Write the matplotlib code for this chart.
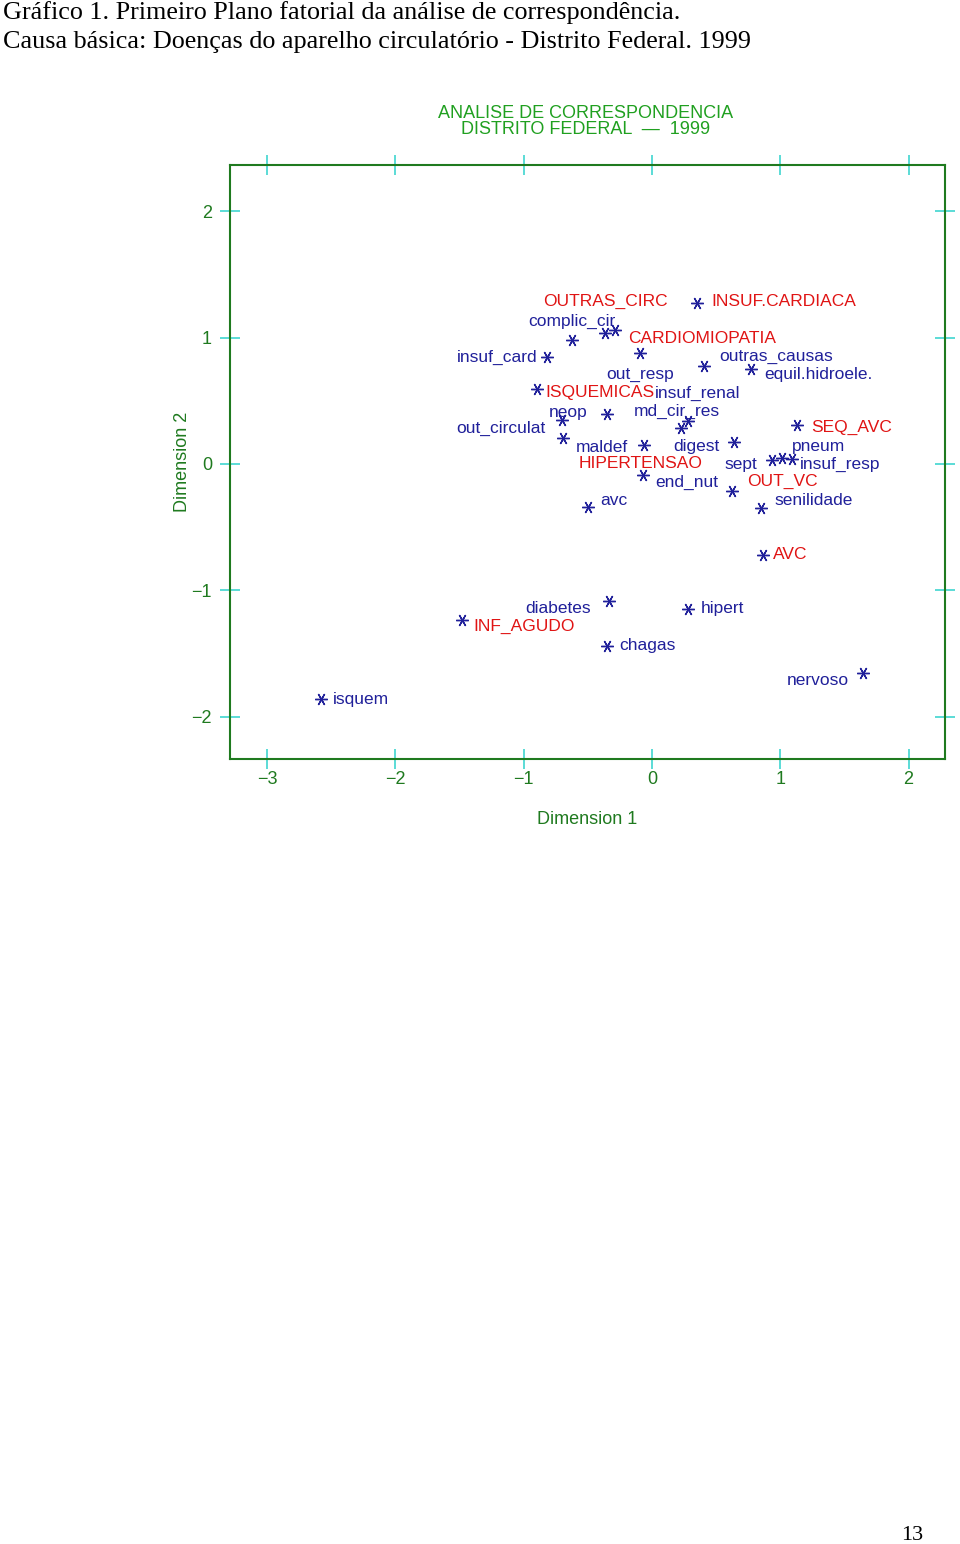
import numpy as np
import matplotlib
matplotlib.use("Agg")
import matplotlib.pyplot as plt

# Coordinates of the categories on the first factorial plane
labels = ["INSUF.CARDIACA", "CARDIOMIOPATIA", "OUTRAS_CIRC", "complic_cir", "out_resp",
          "insuf_card", "outras_causas", "equil.hidroele.", "ISQUEMICAS", "HIPERTENSAO",
          "neop", "insuf_renal", "md_cir_res", "SEQ_AVC", "out_circulat",
          "maldef", "digest", "sept", "pneum", "insuf_resp",
          "end_nut", "OUT_VC", "avc", "senilidade", "AVC",
          "diabetes", "hipert", "INF_AGUDO", "chagas", "nervoso", "isquem"]
dim1 = [0.351, -0.288, -0.624, -0.366, -0.094,
        -0.818, 0.405, 0.772, -0.896, -0.351,
        -0.701, 0.281, 0.226, 1.130, -0.694,
        -0.062, 0.639, 0.935, 1.013, 1.091,
        -0.070, 0.624, -0.499, 0.850, 0.865,
        -0.335, 0.281, -1.481, -0.351, 1.645, -2.580]
dim2 = [1.275, 1.061, 0.982, 1.037, 0.879,
        0.847, 0.776, 0.752, 0.594, 0.396,
        0.348, 0.340, 0.285, 0.309, 0.206,
        0.150, 0.174, 0.032, 0.048, 0.040,
        -0.087, -0.214, -0.340, -0.348, -0.720,
        -1.085, -1.148, -1.235, -1.441, -1.655, -1.861]
# column categories (causa basica) are the red ones
column_cats = ["INSUF.CARDIACA", "CARDIOMIOPATIA", "OUTRAS_CIRC", "ISQUEMICAS", "HIPERTENSAO",
               "SEQ_AVC", "OUT_VC", "AVC", "INF_AGUDO"]

# label placement (pixels from the point, alignment) - layout only
label_pos = [(14, 1, "left"), (13, -9, "left"), (-29, 38, "left"), (10, 12, "right"), (-34, -22, "left"),
             (-10, 0, "right"), (15, 9, "left"), (13, -6, "left"), (8, -4, "left"), (-28, -50, "left"),
             (-13, 8, "left"), (-33, 28, "left"), (-47, 17, "left"), (14, -2, "left"), (-17, 10, "right"),
             (-16, -2, "right"), (-14, -5, "right"), (-15, -5, "right"), (10, 11, "left"), (8, -6, "left"),
             (12, -7, "left"), (15, 10, "left"), (12, 6, "left"), (13, 7, "left"), (10, 0, "left"),
             (-18, -8, "right"), (13, 0, "left"), (11, -6, "left"), (12, 0, "left"), (-14, -8, "right"),
             (12, 0, "left")]

x_ticks = [-3, -2, -1, 0, 1, 2]
y_ticks = [-2, -1, 0, 1, 2]

FRAME = "#1f7a1f"
TICK = "#3fd6d0"
BLUE = "#20209a"
RED = "#e01414"
TITLE_GREEN = "#20a020"
SANS = "Liberation Sans"

fig = plt.figure(figsize=(9.6, 15.44), dpi=100)
fig.patch.set_facecolor("white")

fig.text(3 / 960, 1 - 13 / 1544, "Gráfico 1. Primeiro Plano fatorial da análise de correspondência.",
         family="Liberation Serif", fontsize=18.8, va="center", ha="left")
fig.text(3 / 960, 1 - 42 / 1544, "Causa básica: Doenças do aparelho circulatório - Distrito Federal. 1999",
         family="Liberation Serif", fontsize=18.8, va="center", ha="left")
fig.text(912 / 960, 1 - 1535 / 1544, "13", family="Liberation Serif", fontsize=16,
         va="center", ha="center")

fig.text(586 / 960, 1 - 113 / 1544, "ANALISE DE CORRESPONDENCIA", family=SANS, fontsize=13,
         color=TITLE_GREEN, ha="center", va="center")
fig.text(586 / 960, 1 - 130 / 1544, "DISTRITO FEDERAL  —  1999", family=SANS, fontsize=13,
         color=TITLE_GREEN, ha="center", va="center")

ax = fig.add_axes([230 / 960, 1 - 759 / 1544, 715 / 960, 594 / 1544])
ax.set_xlim(-3.289, 2.284)
ax.set_ylim(-2.336, 2.367)

ax.plot(dim1, dim2, linestyle="", marker=(6, 2, 90), markersize=9,
        markeredgewidth=1.0, color=BLUE)

for lab, x, y, (dx, dy, ha) in zip(labels, dim1, dim2, label_pos):
    col = RED if lab in column_cats else BLUE
    ax.annotate(lab, (x, y), xytext=(dx, dy), textcoords="offset pixels",
                ha=ha, va="center", color=col, family=SANS, fontsize=12.5)

for sp in ax.spines.values():
    sp.set_color(FRAME)
    sp.set_linewidth(1.5)

ax.set_xticks(x_ticks)
ax.set_yticks(y_ticks)
ax.set_xticklabels([str(t).replace("-", "\u2212") for t in x_ticks])
ax.set_yticklabels([str(t).replace("-", "\u2212") for t in y_ticks])
ax.tick_params(direction="inout", length=14, width=1.2, color=TICK,
               top=True, right=True, labelcolor=FRAME, labelsize=13)
ax.tick_params(axis="x", pad=2)
ax.tick_params(axis="y", pad=6)
for t in ax.get_xticklabels() + ax.get_yticklabels():
    t.set_family(SANS)

ax.set_xlabel("Dimension 1", family=SANS, fontsize=13, color=FRAME, labelpad=16)
ax.set_ylabel("Dimension 2", family=SANS, fontsize=13, color=FRAME, labelpad=0)

fig.savefig("out.png", dpi=100, facecolor="white")
